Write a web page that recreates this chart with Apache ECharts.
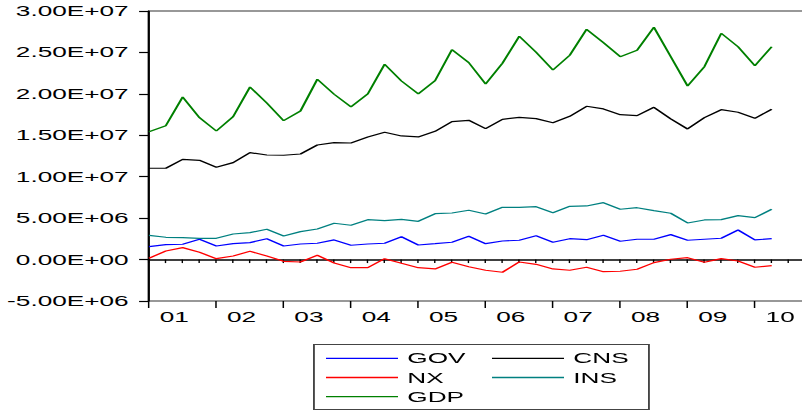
<!DOCTYPE html>
<html>
<head>
<meta charset="utf-8">
<script src="https://cdn.jsdelivr.net/npm/echarts@6/dist/echarts.min.js"></script>
<style>
html, body { margin: 0; padding: 0; background: #fff; overflow: hidden; }
#chart { height: 414px; transform-origin: 0 0; }
</style>
</head>
<body>
<div id="chart"></div>
<script>
// Quarterly categories 2001Q1 .. 2010Q4
const categories = [
  "2001Q1","2001Q2","2001Q3","2001Q4","2002Q1","2002Q2","2002Q3","2002Q4",
  "2003Q1","2003Q2","2003Q3","2003Q4","2004Q1","2004Q2","2004Q3","2004Q4",
  "2005Q1","2005Q2","2005Q3","2005Q4","2006Q1","2006Q2","2006Q3","2006Q4",
  "2007Q1","2007Q2","2007Q3","2007Q4","2008Q1","2008Q2","2008Q3","2008Q4",
  "2009Q1","2009Q2","2009Q3","2009Q4","2010Q1","2010Q2","2010Q3","2010Q4"
];

const GOV = [1560000,1800000,1850000,2450000,1640000,1920000,2040000,2520000,
  1640000,1880000,1970000,2370000,1730000,1880000,1970000,2760000,
  1760000,1920000,2090000,2810000,1920000,2240000,2330000,2880000,
  2090000,2520000,2400000,2930000,2210000,2450000,2450000,3010000,
  2330000,2450000,2570000,3570000,2370000,2520000];

const CNS = [11020000,11020000,12100000,11980000,11140000,11700000,12900000,12620000,
  12590000,12740000,13830000,14110000,14070000,14800000,15360000,14920000,
  14800000,15480000,16640000,16810000,15800000,16930000,17170000,17010000,
  16520000,17290000,18500000,18180000,17490000,17370000,18380000,16970000,
  15760000,17130000,18090000,17780000,17050000,18140000];

const NX = [160000,1040000,1440000,880000,110000,430000,1000000,430000,
  -210000,-290000,520000,-410000,-980000,-980000,110000,-450000,
  -980000,-1130000,-330000,-870000,-1290000,-1530000,-290000,-570000,
  -1130000,-1290000,-930000,-1460000,-1410000,-1170000,-370000,40000,
  230000,-330000,110000,-170000,-930000,-740000];

const INS = [2930000,2690000,2640000,2570000,2570000,3090000,3250000,3660000,
  2850000,3370000,3690000,4380000,4140000,4820000,4690000,4860000,
  4620000,5540000,5620000,5950000,5500000,6310000,6310000,6380000,
  5660000,6430000,6470000,6870000,6070000,6260000,5900000,5590000,
  4420000,4780000,4820000,5300000,5060000,6070000];

const GDP = [15430000,16160000,19620000,17130000,15520000,17250000,20830000,18900000,
  16760000,17930000,21760000,19950000,18420000,19990000,23570000,21550000,
  19990000,21590000,25330000,23770000,21190000,23690000,26950000,25020000,
  22880000,24660000,27790000,26180000,24490000,25260000,28040000,24490000,
  20950000,23280000,27310000,25690000,23400000,25690000];

const yTicks = { min: -5000000, max: 30000000, interval: 5000000 };

const seriesNames = ["GOV","CNS","NX","INS","GDP"];
const seriesColors = { GOV: "#0000ff", CNS: "#000000", NX: "#ff0000", INS: "#008080", GDP: "#008000" };
const seriesData = { GOV: GOV, CNS: CNS, NX: NX, INS: INS, GDP: GDP };

// horizontal stretch of the whole picture (the reference is stretched)
const S = 1.87;
const FULLW = 802;
const W = FULLW / S;
const el = document.getElementById('chart');
el.style.width = W + 'px';
el.style.transform = 'scaleX(' + S + ')';

const FONT = '"Liberation Sans", Arial, sans-serif';
const q = 16.83;           // pixels per quarter (final)
const x0 = 149;            // final x of first category
const xEnd = x0 + (categories.length - 1) * q;

function sci(v) {
  if (v === 0) return '0.00E+00';
  const s = v.toExponential(2);
  const parts = s.split('e');
  const sign = parts[1][0] === '-' ? '-' : '+';
  const d = parts[1].replace(/[+-]/, '');
  return parts[0] + 'E' + sign + (d.length < 2 ? '0' + d : d);
}

const chart = echarts.init(el, null, { renderer: 'svg', width: W, height: 414 });

const option = {
  animation: false,
  backgroundColor: '#ffffff',
  grid: {
    left: x0 / S,
    width: (xEnd - x0) / S,
    top: 11,
    height: 290,
    outerBoundsMode: 'none',
    containLabel: false,
    show: true,
    borderColor: '#333333',
    borderWidth: 1,
    backgroundColor: 'transparent'
  },
  xAxis: [
    {
      type: 'category',
      data: categories,
      boundaryGap: false,
      position: 'bottom',
      axisLine: { show: true, lineStyle: { color: '#000', width: 1.5 } },
      axisTick: { show: true, interval: 0, length: 3.5, lineStyle: { color: '#000', width: 0.75 } },
      axisLabel: {
        show: true,
        interval: function (i) { return i % 4 === 1; },
        formatter: function (v) { return v.slice(2, 4); },
        fontFamily: FONT, fontSize: 14, color: '#000',
        margin: 9,
        padding: [0, 0, 0, 9]
      },
      splitLine: { show: false }
    },
    {
      type: 'category',
      data: categories,
      boundaryGap: false,
      position: 'bottom',
      axisLine: { show: false },
      axisTick: { show: true, interval: 3, length: 7, lineStyle: { color: '#000', width: 0.8 } },
      axisLabel: { show: false },
      splitLine: { show: false }
    }
  ],
  yAxis: {
    type: 'value',
    min: yTicks.min, max: yTicks.max, interval: yTicks.interval,
    axisLine: { show: true, lineStyle: { color: '#000', width: 1.1 } },
    axisTick: { show: true, length: 5.3, lineStyle: { color: '#000', width: 1.2 } },
    axisLabel: { formatter: sci, fontFamily: FONT, fontSize: 14, color: '#000', margin: 10.9 },
    splitLine: { show: false }
  },
  legend: [
    {
      data: ['GOV', 'NX', 'GDP'],
      orient: 'vertical',
      left: 326 / S, top: 348.7,
      padding: 0, itemGap: 0,
      itemWidth: 72 / S, itemHeight: 1.3,
      icon: 'rect',
      textStyle: { fontFamily: FONT, fontSize: 14, color: '#000', lineHeight: 19.2 }
    },
    {
      data: ['CNS', 'INS'],
      orient: 'vertical',
      left: 492 / S, top: 348.7,
      padding: 0, itemGap: 0,
      itemWidth: 72 / S, itemHeight: 1.3,
      icon: 'rect',
      textStyle: { fontFamily: FONT, fontSize: 14, color: '#000', lineHeight: 19.2 }
    }
  ],
  graphic: [
    {
      type: 'rect',
      left: 313 / S, top: 344,
      shape: { width: (648 - 313) / S, height: 65 },
      style: { fill: 'transparent', stroke: '#444', lineWidth: 1 },
      silent: true
    }
  ],
  series: seriesNames.map(function (n) {
    return {
      name: n,
      type: 'line',
      data: seriesData[n],
      showSymbol: false,
      symbol: 'none',
      color: seriesColors[n],
      lineStyle: { color: seriesColors[n], width: 1.2 },
      itemStyle: { color: seriesColors[n] }
    };
  })
};

chart.setOption(option);
</script>
</body>
</html>
